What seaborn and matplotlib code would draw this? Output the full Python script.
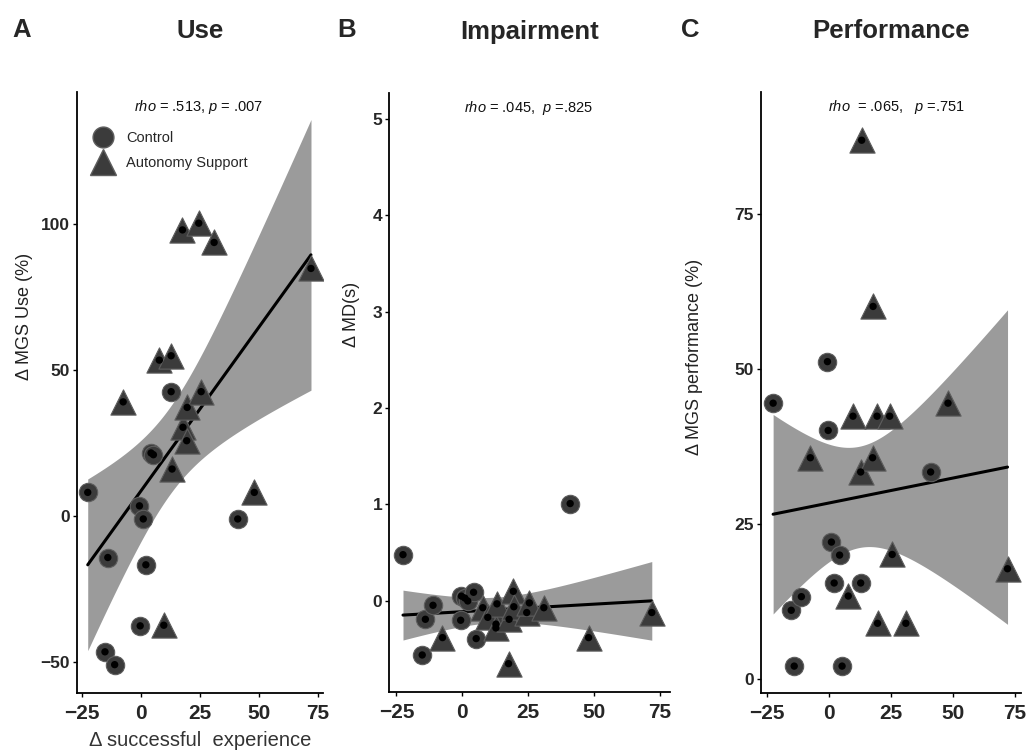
import numpy as np
import pandas as pd
import seaborn as sns
import matplotlib.pyplot as plt
from matplotlib.lines import Line2D

sns.set_style('white')
plt.rcParams['font.family'] = ['Liberation Sans', 'DejaVu Sans']
plt.rcParams['mathtext.fontset'] = 'custom'
plt.rcParams['mathtext.rm'] = 'Liberation Sans'
plt.rcParams['mathtext.it'] = 'Liberation Sans:italic'

# delta successful experience per participant
x_ctrl = [-22.5, -15.2, -14.0, -11.1, -0.6, -0.3, 1.0, 2.1, 4.3, 5.3, 12.8, 41.0]
x_auto = [-7.5, 7.8, 9.7, 12.8, 13.2, 17.6, 17.8, 19.4, 19.6, 24.5, 25.5, 31.0, 48.0, 72.0]

# panel A: delta MGS use (%)
use_ctrl = [8.1, -46.5, -14.2, -50.9, 3.5, -37.6, -1.0, -16.7, 21.6, 21.0, 42.6, -1.0]
use_auto = [39.1, 53.4, -37.4, 54.9, 16.1, 98.0, 30.4, 25.8, 37.2, 100.3, 42.6, 93.7, 8.1, 84.8]

# panel B: delta MD(s)
md_ctrl = [0.48, -0.56, -0.19, -0.045, -0.20, 0.05, 0.03, 0.0, 0.09, -0.39, -0.24, 1.01]
md_auto = [-0.38, -0.07, -0.17, -0.28, -0.03, -0.65, -0.19, 0.10, -0.06, -0.12, -0.02, -0.07, -0.38, -0.12]

# panel C: delta MGS performance (%)
perf_ctrl = [44.5, 11.1, 2.1, 13.3, 51.2, 40.1, 22.1, 15.5, 20.0, 2.1, 15.5, 33.4]
perf_auto = [35.7, 13.4, 42.4, 33.4, 86.9, 35.7, 60.1, 42.4, 9.0, 42.4, 20.1, 9.0, 44.5, 17.8]

groups = ['Control'] * len(x_ctrl) + ['Autonomy Support'] * len(x_auto)
df = pd.DataFrame({
    'exp': x_ctrl + x_auto,
    'use': use_ctrl + use_auto,
    'md': md_ctrl + md_auto,
    'perf': perf_ctrl + perf_auto,
    'group': groups,
})

T95 = 2.064  # t quantile, df = n - 2 = 24

panels = [
    dict(col='use', letter='A', title='Use', ylabel='\u0394 MGS Use (%)',
         rect=[0.075, 0.0797, 0.239, 0.798], xlim=(-27, 77), ylim=(-60.6, 145.2),
         yticks=[-50, 0, 50, 100], ylab_pos=(-0.179, 0.626),
         stat=r'$\it{rho}$ = .513, $\it{p}$ = .007', stat_x=0.493, letter_x=22),
    dict(col='md', letter='B', title='Impairment', ylabel='\u0394 MD(s)',
         rect=[0.3787, 0.0815, 0.273, 0.7955], xlim=(-27.7, 78.9), ylim=(-0.94, 5.27),
         yticks=[0, 1, 2, 3, 4, 5], ylab_pos=(-0.104, 0.629),
         stat=r'$\it{rho}$ = .045,  $\it{p}$ =.825', stat_x=0.495, letter_x=347),
    dict(col='perf', letter='C', title='Performance', ylabel='\u0394 MGS performance (%)',
         rect=[0.740, 0.080, 0.2536, 0.798], xlim=(-27.5, 77.6), ylim=(-2.2, 94.7),
         yticks=[0, 25, 50, 75], ylab_pos=(-0.222, 0.559),
         stat=r'$\it{rho}$  = .065,   $\it{p}$ =.751', stat_x=0.52, letter_x=690),
]

fig = plt.figure(figsize=(10.28, 7.53), dpi=100)
fill = '#3b3b3b'
edge = '#5e5e5e'

for p in panels:
    ax = fig.add_axes(p['rect'])
    sns.regplot(data=df, x='exp', y=p['col'], scatter=False, ax=ax, color='black',
                ci=None, line_kws={'lw': 2.2, 'zorder': 2})

    # analytic 95% confidence band of the linear fit
    xv = df['exp'].to_numpy()
    yv = df[p['col']].to_numpy()
    slope, icpt = np.polyfit(xv, yv, 1)
    resid = yv - (slope * xv + icpt)
    s_err = np.sqrt(np.sum(resid ** 2) / (len(xv) - 2))
    grid = np.linspace(xv.min(), xv.max(), 200)
    se = s_err * np.sqrt(1 / len(xv) + (grid - xv.mean()) ** 2 / np.sum((xv - xv.mean()) ** 2))
    fit = slope * grid + icpt
    ax.fill_between(grid, fit - T95 * se, fit + T95 * se, color='#9b9b9b',
                    linewidth=0, zorder=1)

    ctrl = df[df['group'] == 'Control']
    auto = df[df['group'] == 'Autonomy Support']
    sns.scatterplot(data=ctrl, x='exp', y=p['col'], ax=ax, marker='o', s=175,
                    color=fill, edgecolor=edge, linewidth=0.8, zorder=3)
    sns.scatterplot(data=auto, x='exp', y=p['col'], ax=ax, marker='^', s=330,
                    color=fill, edgecolor=edge, linewidth=0.8, zorder=3)
    sns.scatterplot(data=df, x='exp', y=p['col'], ax=ax, marker='o', s=28,
                    color='black', edgecolor='none', zorder=4)

    ax.set_xlim(*p['xlim'])
    ax.set_ylim(*p['ylim'])
    ax.set_xticks([-25, 0, 25, 50, 75])
    ax.set_yticks(p['yticks'])
    ax.set_xticklabels(['\u221225', '0', '25', '50', '75'], fontsize=15, fontweight='bold')
    ax.set_yticklabels([str(t).replace('-', '\u2212') for t in p['yticks']],
                       fontsize=12.5, fontweight='bold')
    ax.tick_params(axis='both', direction='out', length=3, width=1, color='black',
                   bottom=True, left=True)
    ax.tick_params(axis='x', pad=5)
    ax.tick_params(axis='y', pad=2)
    for s in ['top', 'right']:
        ax.spines[s].set_visible(False)
    for s in ['left', 'bottom']:
        ax.spines[s].set_color('black')
        ax.spines[s].set_linewidth(1.3)

    ax.set_xlabel('')
    ax.set_ylabel(p['ylabel'], fontsize=13, color='#222222')
    ax.yaxis.set_label_coords(*p['ylab_pos'])

    ax.text(p['stat_x'], 0.975, p['stat'], transform=ax.transAxes, ha='center',
            va='center', fontsize=10.5, color='#111111')
    ax.text(0.5, 1.102, p['title'], transform=ax.transAxes, ha='center', va='center',
            fontsize=18.5, fontweight='bold')
    fig.text(p['letter_x'] / 1028, 1 - 30 / 753, p['letter'], ha='center', va='center',
             fontsize=18.5, fontweight='bold')

    if p['letter'] == 'A':
        ax.set_xlabel('\u0394 successful  experience', fontsize=14.5, color='#333333')
        ax.xaxis.set_label_coords(0.5, -0.063)
        handles = [
            Line2D([], [], marker='o', ls='none', markersize=15, color=fill,
                   markeredgecolor=edge, label='Control'),
            Line2D([], [], marker='^', ls='none', markersize=19, color=fill,
                   markeredgecolor=edge, label='Autonomy Support'),
        ]
        ax.legend(handles=handles, loc='upper left', bbox_to_anchor=(0.04, 0.945),
                  frameon=False, fontsize=10.5, handletextpad=0.9, labelspacing=0.75,
                  borderaxespad=0, handlelength=1.4)

fig.savefig('out.png', dpi=100, facecolor='white')
